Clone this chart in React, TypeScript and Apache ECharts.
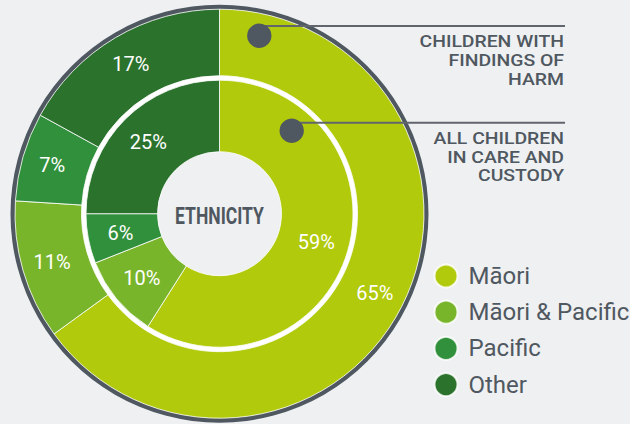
import React, { useEffect, useRef } from "react";
import * as echarts from "echarts";

const categories = ["Māori", "Māori & Pacific", "Pacific", "Other"];
const harmValues = [65, 11, 7, 17]; // outer ring: children with findings of harm
const careValues = [59, 10, 6, 25]; // inner ring: all children in care and custody
const colors = ["#b1ca0b", "#79b52b", "#31903b", "#2b732d"];
const harmTitle = ["CHILDREN WITH", "FINDINGS OF", "HARM"];
const careTitle = ["ALL CHILDREN", "IN CARE AND", "CUSTODY"];
const centerTitle = "ETHNICITY";

const BG = "#eff0f2";
const DARK = "#4f5860";
const FONT = "Roboto, 'Noto Sans', sans-serif";

export default function App() {
  const ref = useRef<HTMLDivElement>(null);

  useEffect(() => {
    document.body.style.margin = "0";
    if (!ref.current) return;
    const chart = echarts.init(ref.current, undefined, { renderer: "svg" });
    const center: [number, number] = [219.5, 213.7];

    const sectorStyle = {
      borderColor: "rgba(255,255,255,0.8)",
      borderWidth: 1,
    };
    const label = {
      show: true,
      position: "inside",
      formatter: "{c}%",
      color: "#ffffff",
      fontSize: 20,
      fontFamily: FONT,
    };

    const mk = (vals: number[]) =>
      categories.map((name, i) => ({
        name,
        value: vals[i],
        itemStyle: { color: colors[i] },
      }));

    const titleLines = (lines: string[], y0: number, step: number) =>
      lines.map((t, i) => ({
        type: "text",
        x: 564,
        y: y0 + i * step,
        z: 100,
        scaleX: 1.14,
        style: {
          text: t,
          fill: DARK,
          fontSize: 17,
          fontWeight: 500,
          fontFamily: FONT,
          textAlign: "right",
          textVerticalAlign: "middle",
        },
      }));

    chart.setOption({
      animation: false,
      backgroundColor: BG,
      legend: {
        orient: "vertical",
        left: 428.5,
        top: 258.5,
        icon: "circle",
        itemWidth: 23,
        itemHeight: 23,
        itemGap: 11.2,
        selectedMode: false,
        data: categories,
        textStyle: {
          color: DARK,
          fontSize: 24,
          lineHeight: 23,
          fontFamily: FONT,
          padding: [0, 0, 0, 6],
        },
      },
      series: [
        {
          type: "pie",
          name: "Border",
          center,
          radius: [204, 209],
          silent: true,
          startAngle: 90,
          label: { show: false },
          labelLine: { show: false },
          data: [{ name: "", value: 1, itemStyle: { color: DARK } }],
        },
        {
          type: "pie",
          name: "Gap",
          center,
          radius: [133.5, 138],
          silent: true,
          label: { show: false },
          labelLine: { show: false },
          data: [{ name: "", value: 1, itemStyle: { color: "#ffffff" } }],
        },
        {
          type: "pie",
          name: "Children with findings of harm",
          center,
          radius: [138, 204.5],
          startAngle: 90,
          clockwise: true,
          itemStyle: sectorStyle,
          label,
          labelLine: { show: false },
          emphasis: { disabled: true },
          data: mk(harmValues),
        },
        {
          type: "pie",
          name: "All children in care and custody",
          center,
          radius: [62, 133.5],
          startAngle: 90,
          clockwise: true,
          itemStyle: sectorStyle,
          label,
          labelLine: { show: false },
          emphasis: { disabled: true },
          data: mk(careValues),
        },
      ],
      graphic: [
        {
          type: "text",
          x: center[0],
          y: 216.5,
          scaleX: 0.73,
          z: 100,
          style: {
            text: centerTitle,
            fill: DARK,
            fontSize: 24,
            fontWeight: "bold",
            fontFamily: FONT,
            textAlign: "center",
            textVerticalAlign: "middle",
          },
        },
        {
          type: "line",
          z: 100,
          shape: { x1: 259, y1: 26, x2: 565, y2: 26 },
          style: { stroke: "#60666c", lineWidth: 2 },
        },
        {
          type: "line",
          z: 100,
          shape: { x1: 291, y1: 122.7, x2: 565, y2: 122.7 },
          style: { stroke: "#60666c", lineWidth: 2 },
        },
        {
          type: "circle",
          z: 101,
          shape: { cx: 259.3, cy: 35.7, r: 12.2 },
          style: { fill: DARK },
        },
        {
          type: "circle",
          z: 101,
          shape: { cx: 291.7, cy: 130.7, r: 12.2 },
          style: { fill: DARK },
        },
        ...titleLines(harmTitle, 41.3, 19),
        ...titleLines(careTitle, 138, 18.6),
      ],
    });

    return () => chart.dispose();
  }, []);

  return <div ref={ref} style={{ width: 630, height: 424 }} />;
}
